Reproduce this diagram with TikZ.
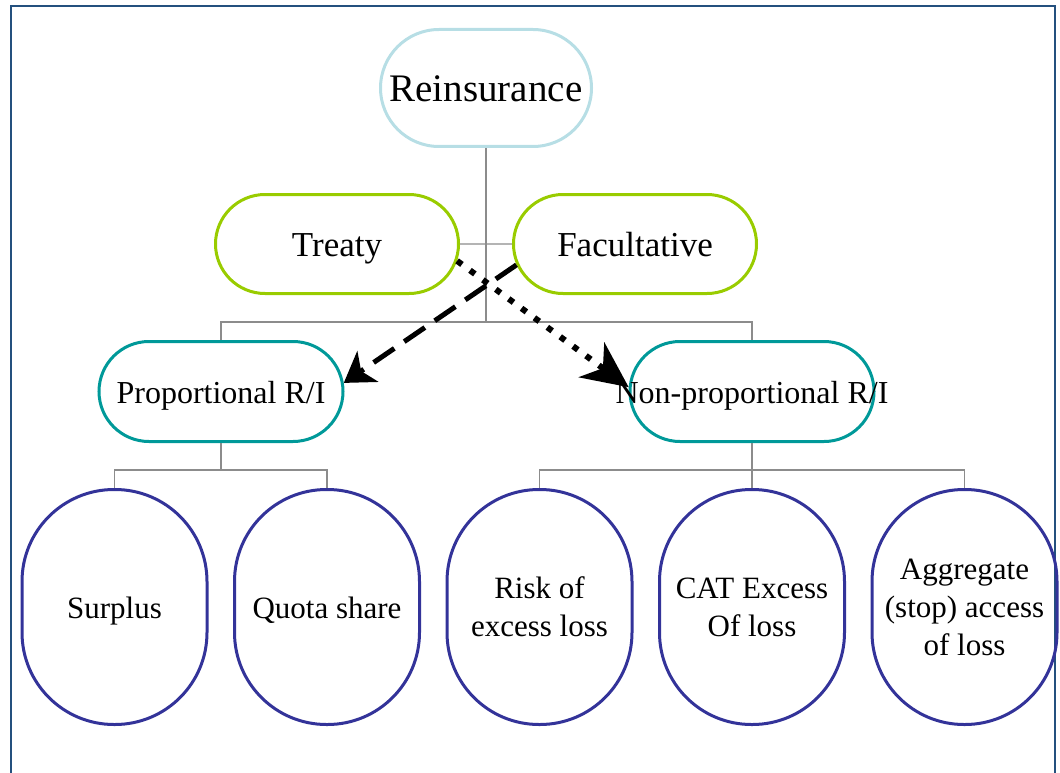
\documentclass[tikz,border=0pt]{standalone}
\usepackage{fontspec}
\setmainfont{Liberation Serif}
\usetikzlibrary{arrows.meta,positioning,shapes.misc}
\definecolor{rimblue}{HTML}{B7DEE5}
\definecolor{rimgreen}{HTML}{99CC00}
\definecolor{rimteal}{HTML}{009999}
\definecolor{rimnavy}{HTML}{333399}
\definecolor{framecol}{HTML}{24507E}
\begin{document}
\begin{tikzpicture}[x=1pt, y=-1pt, >=Stealth,
  toppill/.style={draw=rimblue, line width=3pt, rounded rectangle, inner sep=0pt, text height=31pt, text depth=4pt, minimum width=211pt, minimum height=117pt, font=\fontsize{39}{46}\selectfont},
  typepill/.style={draw=rimgreen, line width=3pt, rounded rectangle, inner sep=0pt, text height=28pt, text depth=4pt, minimum width=243pt, minimum height=99pt, font=\fontsize{35}{42}\selectfont},
  kindpill/.style={draw=rimteal, line width=3pt, rounded rectangle, inner sep=0pt, text height=26pt, text depth=3pt, minimum width=244pt, minimum height=100pt, font=\fontsize{32}{38}\selectfont},
  leaf/.style={draw=rimnavy, line width=3pt, rounded corners=92pt, align=center, inner sep=0pt, minimum width=185pt, minimum height=235pt, font=\fontsize{31}{38}\selectfont, execute at begin node={\rule{0pt}{29pt}}},
  tree/.style={draw=black!45, line width=1.3pt},
  dashline/.style={line width=5pt, dash pattern=on 25pt off 12pt, -{Stealth[length=29pt, width=37pt, inset=8pt]}},
  dotline/.style={line width=6pt, dash pattern=on 6pt off 10pt, -{Stealth[length=46pt, width=43pt, inset=14pt]}}]
\useasboundingbox (0,0) rectangle (1060,773);
\draw[framecol, line width=2pt] (10.5,773) -- (10.5,6) -- (1055,6) -- (1055,773);
\node[toppill] (rein) at (486,88) {\makebox[0pt]{Reinsurance}};
\node[typepill, below=45pt of rein, xshift=-149pt] (treaty) {\makebox[0pt]{Treaty}};
\node[typepill, right=52pt of treaty] (fac) {\makebox[0pt]{Facultative}};
\node[kindpill, below=45pt of treaty, xshift=-116pt] (prop) {\makebox[0pt]{Proportional R/I}};
\node[kindpill, right=284pt of prop] (nonprop) {\makebox[0pt]{Non-proportional R/I}};
\node[leaf, below=45pt of prop, xshift=-106.5pt] (surplus) {Surplus};
\node[leaf, right=24.5pt of surplus] (quota) {Quota share};
\node[leaf, right=24.5pt of quota] (risk) {Risk of\\excess loss};
\node[leaf, right=24.5pt of risk] (cat) {CAT Excess\\Of loss};
\node[leaf, right=24.5pt of cat] (agg) {Aggregate\\(stop) access\\of loss};
\draw[tree] (rein.south) -- ++(0,174) coordinate (hub); \draw[tree] (treaty) -- (fac); \draw[tree] (prop.north) |- (hub) -| (nonprop.north);
\draw[tree] (prop.south) -- ++(0,27) coordinate (hubp); \draw[tree] (surplus.north) |- (hubp) -| (quota.north);
\draw[tree] (nonprop.south) -- ++(0,27) coordinate (hubn) -- (cat.north); \draw[tree] (risk.north) |- (hubn) -| (agg.north);
\draw[dashline] (fac.190) -- (prop.4); \draw[dotline] (treaty.352) -- (nonprop.178);
\end{tikzpicture}
\end{document}
